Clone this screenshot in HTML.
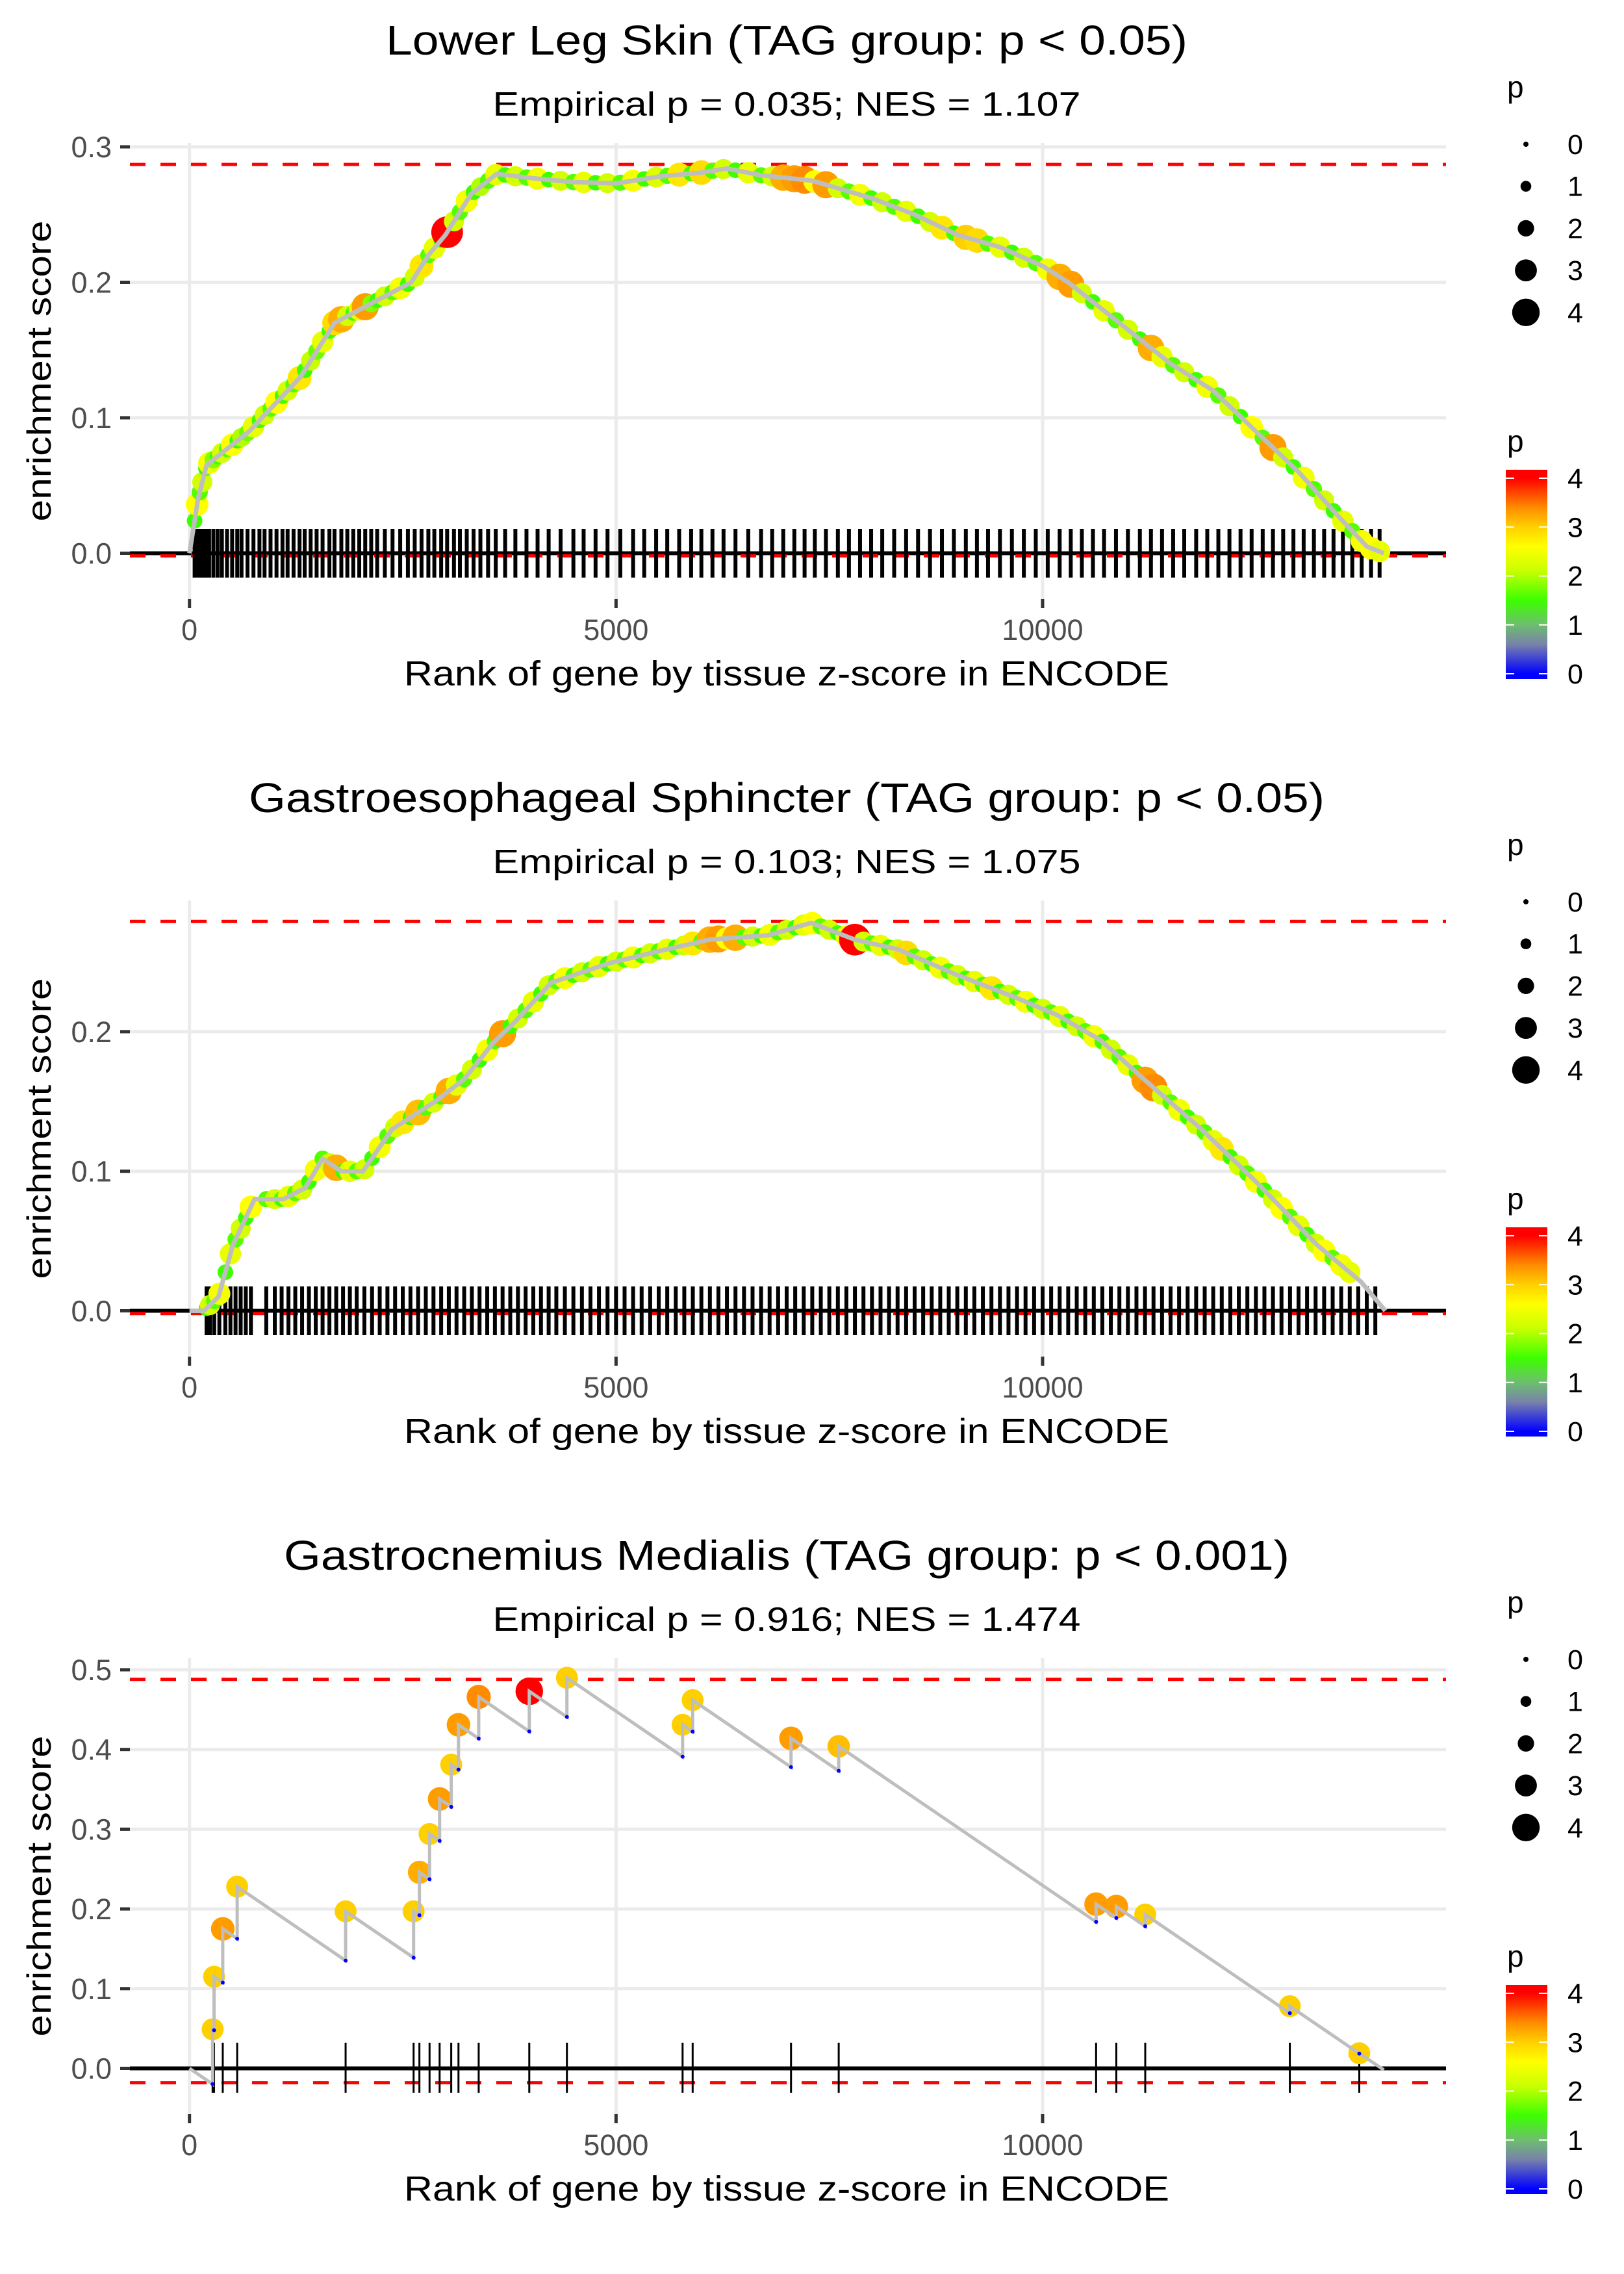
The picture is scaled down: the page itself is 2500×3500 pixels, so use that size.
<!DOCTYPE html>
<html><head><meta charset="utf-8"><style>
html,body{margin:0;padding:0;background:#fff}
svg{display:block}
text{font-family:"Liberation Sans",sans-serif}
</style></head><body>
<svg id="fig" xmlns="http://www.w3.org/2000/svg" width="2500" height="3500" viewBox="0 0 2500 3500">
<rect width="2500" height="3500" fill="#fff"/>
</svg>
<script>
// ---------- Data: panel 1 (Lower Leg Skin) ----------
const p1CurveRanks=[0,100,200,400,700,1000,1300,1500,1700,2000,2300,2600,2800,3000,3300,3600,4000,4500,5000,5500,6000,6300,6700,7300,8000,8500,9000,9500,10000,10300,10500,11000,11500,12000,12500,13000,13500,13800,14000];
const p1CurveES=[0,0.04,0.065,0.075,0.09,0.11,0.13,0.15,0.17,0.18,0.19,0.2,0.22,0.235,0.265,0.28,0.277,0.274,0.273,0.278,0.281,0.284,0.279,0.275,0.262,0.25,0.235,0.226,0.212,0.2,0.19,0.165,0.14,0.12,0.09,0.06,0.025,0.005,0];
const p1HitRanks=[60,90,120,150,190,230,280,330,380,440,500,560,610,680,750,820,880,950,1020,1090,1150,1220,1290,1350,1420,1490,1560,1640,1700,1780,1850,1920,1990,2060,2130,2200,2290,2380,2470,2560,2640,2720,2800,2870,2950,3020,3100,3170,3250,3330,3410,3500,3590,3700,3820,3950,4080,4210,4350,4500,4620,4760,4900,5050,5200,5330,5470,5600,5740,5880,6000,6130,6260,6400,6550,6700,6830,6960,7090,7210,7330,7460,7600,7730,7860,7990,8120,8260,8400,8540,8680,8820,8960,9100,9230,9360,9500,9640,9780,9920,10060,10200,10330,10460,10590,10720,10860,11000,11140,11270,11400,11530,11660,11800,11930,12060,12190,12320,12450,12580,12700,12820,12940,13060,13180,13300,13410,13520,13630,13740,13850,13950];
const p1HitP=[1.5,2.6,1.6,2.2,1.4,2.5,1.8,1.5,2.2,1.6,2.6,1.5,2.0,1.7,2.4,1.5,2.2,1.6,2.6,1.5,2.2,1.6,2.8,1.5,2.1,1.7,2.4,1.5,2.9,3.2,2.2,1.5,2.4,3.3,1.8,1.5,2.2,1.6,2.5,1.5,2.2,2.8,1.6,2.4,1.5,4.0,2.2,1.6,2.5,1.5,2.0,1.6,2.4,1.5,2.2,1.6,2.5,1.5,2.2,1.6,2.4,1.5,2.2,1.6,2.5,1.5,2.3,1.6,2.8,1.5,2.9,1.6,2.2,1.5,2.4,1.6,2.2,3.2,3.3,3.4,2.6,3.3,2.2,1.6,2.5,1.5,2.2,1.6,2.4,1.5,2.2,2.8,1.5,3.0,2.9,1.6,2.4,1.5,2.2,1.6,2.5,3.2,3.3,2.2,1.5,2.4,1.6,2.2,1.5,3.2,2.4,1.6,2.2,1.5,2.5,1.6,2.2,1.5,2.6,1.6,3.3,2.2,1.5,2.5,1.6,2.2,1.5,2.4,1.6,2.5,2.6,2.4];
// ---------- Data: panel 2 (Gastroesophageal Sphincter) ----------
const p2CurveRanks=[0,170,340,508,763,1100,1356,1560,1780,2034,2373,2881,3220,3559,3814,4237,4915,5593,6102,6780,7288,7797,8305,8983,9661,10169,10678,11186,11864,12542,13220,13729,14017];
const p2CurveES=[0,0.0,0.01,0.047,0.08,0.08,0.088,0.109,0.1,0.1,0.13,0.15,0.166,0.192,0.207,0.235,0.249,0.259,0.266,0.269,0.278,0.266,0.259,0.241,0.225,0.212,0.194,0.166,0.13,0.09,0.047,0.021,0];
const p2HitRanks=[200,240,290,350,420,480,540,600,660,720,900,1000,1080,1160,1240,1320,1400,1480,1560,1640,1720,1800,1880,1960,2050,2140,2230,2320,2410,2500,2590,2680,2770,2860,2950,3040,3130,3220,3310,3400,3490,3580,3670,3760,3850,3940,4030,4120,4210,4300,4400,4500,4600,4700,4800,4900,5000,5100,5200,5300,5400,5500,5600,5700,5800,5900,6000,6100,6200,6300,6400,6500,6600,6700,6800,6900,7000,7100,7200,7300,7400,7500,7600,7700,7800,7900,8000,8100,8200,8300,8400,8500,8600,8700,8800,8900,9000,9100,9200,9300,9400,9500,9600,9700,9800,9900,10000,10100,10200,10300,10400,10500,10600,10700,10800,10900,11000,11100,11200,11300,11400,11500,11600,11700,11800,11900,12000,12100,12200,12300,12400,12500,12600,12700,12800,12900,13000,13100,13200,13300,13400,13500,13600,13700,13800,13900];
const p2HitP=[1.5,2.2,1.6,2.5,1.5,2.4,1.6,2.2,1.5,2.6,1.6,2.2,1.5,2.4,1.6,2.2,1.5,2.5,1.6,2.2,3.2,1.5,2.4,1.6,2.2,1.5,2.5,1.6,2.2,2.8,1.5,3.1,1.6,2.2,1.5,3.2,2.4,1.6,2.2,1.5,2.5,1.6,3.3,1.5,2.2,1.6,2.4,1.5,2.2,1.6,2.5,1.5,2.2,1.6,2.4,1.5,2.2,1.6,2.5,1.5,2.2,1.6,2.4,1.5,2.2,2.8,1.6,3.2,3.3,2.6,3.2,1.6,2.2,1.5,2.5,1.6,2.2,1.5,2.4,2.6,1.6,2.2,1.5,2.5,4.0,2.2,1.6,2.4,1.5,2.2,2.9,1.6,2.2,1.5,2.5,1.6,2.2,1.5,2.4,1.6,2.8,1.5,2.2,1.6,2.5,1.5,2.2,1.6,2.4,1.5,2.2,1.6,2.5,1.5,2.2,1.6,2.4,1.5,3.3,3.4,2.2,1.6,2.5,1.5,2.2,1.6,2.4,2.8,1.5,2.2,1.6,2.5,1.5,2.2,2.6,1.6,2.4,1.5,2.2,2.6,1.6,2.5,2.4];
// ---------- Data: panel 3 (Gastrocnemius Medialis) ----------
const p3HitRanks=[271,288,390,559,1830,2627,2695,2814,2932,3068,3153,3390,3983,4424,5780,5898,7051,7610,10627,10864,11203,12898,13712];
const p3HitES=[0.049,0.115,0.175,0.228,0.197,0.197,0.246,0.294,0.338,0.381,0.431,0.466,0.473,0.490,0.431,0.462,0.414,0.404,0.206,0.203,0.193,0.078,0.019];
const p3HitP=[3.0,3.0,3.3,3.0,3.0,3.0,3.2,3.0,3.3,3.0,3.3,3.4,4.0,3.0,3.0,3.0,3.3,3.1,3.3,3.3,3.0,3.0,3.0];
const p3Step=7.3e-5, p3N=14000;
// ---------- Titles / ticks ----------
const titles=["Lower Leg Skin (TAG group: p < 0.05)","Gastroesophageal Sphincter (TAG group: p < 0.05)","Gastrocnemius Medialis (TAG group: p < 0.001)"];
const titleWidths=[1234,1656,1548];
const subtitles=["Empirical p = 0.035; NES = 1.107","Empirical p = 0.103; NES = 1.075","Empirical p = 0.916; NES = 1.474"];
const xTicks=[0,5000,10000];
const yTicks1=[0,0.1,0.2,0.3], yTicks2=[0,0.1,0.2], yTicks3=[0,0.1,0.2,0.3,0.4,0.5];
const legendSizes=[0,1,2,3,4];

const NS="http://www.w3.org/2000/svg";
const svg=document.getElementById('fig');
function mk(tag,attrs,parent){const e=document.createElementNS(NS,tag);for(const k in attrs)e.setAttribute(k,attrs[k]);(parent||svg).appendChild(e);return e;}
const xs=r=>291.7+r*0.13133;
const rad=p=>4+p*4.3;
const stops=[[0,[0,0,255]],[0.6,[120,130,170]],[1,[110,190,110]],[1.5,[60,255,0]],[2.1,[200,255,0]],[2.6,[255,255,0]],[3.0,[255,208,0]],[3.4,[255,140,0]],[4,[255,0,0]]];
function col(p){for(let i=1;i<stops.length;i++){if(p<=stops[i][0]){const a=stops[i-1],b=stops[i],t=(p-a[0])/(b[0]-a[0]);const c=a[1].map((v,j)=>Math.round(v+(b[1][j]-v)*t));return `rgb(${c.join(',')})`;}}return 'rgb(255,0,0)';}
function interp(rs,es,r){for(let i=1;i<rs.length;i++){if(r<=rs[i]){const t=(r-rs[i-1])/(rs[i]-rs[i-1]);return es[i-1]+(es[i]-es[i-1])*t;}}return es[es.length-1];}

function panel(k,yPer,yTicks){
  const g=mk('g',{transform:`translate(0,${k*1166})`});
  
  
  const ys=v=>851.5-v*yPer*100;
  yTicks.forEach(v=>{const l=mk('line',{x1:200,x2:2226,y1:ys(v),y2:ys(v),stroke:'#ebebeb','stroke-width':5},g);
    });
  xTicks.forEach(v=>{const l=mk('line',{x1:xs(v),x2:xs(v),y1:220,y2:922,stroke:'#ebebeb','stroke-width':5},g);
    });
  yTicks.forEach(v=>{mk('line',{x1:185,x2:200,y1:ys(v),y2:ys(v),stroke:'#333','stroke-width':5},g);
    const t=mk('text',{x:172,y:ys(v)+16,'font-size':45,fill:'#4d4d4d','text-anchor':'end'},g);t.textContent=v.toFixed(1);
    });
  xTicks.forEach(v=>{mk('line',{x1:xs(v),x2:xs(v),y1:922,y2:936,stroke:'#333','stroke-width':5},g);
    const t=mk('text',{x:xs(v),y:985,'font-size':45,fill:'#4d4d4d','text-anchor':'middle'},g);t.textContent=v;
    });
  return {g,ys};
}
function texts(k){
  const g=mk('g',{transform:`translate(0,${k*1166})`});
  const t=mk('text',{x:1211,y:84,'font-size':64,'text-anchor':'middle',textLength:titleWidths[k],lengthAdjust:'spacingAndGlyphs'},g);t.textContent=titles[k];
  
  const s=mk('text',{x:1211,y:178,'font-size':52,'text-anchor':'middle',textLength:905,lengthAdjust:'spacingAndGlyphs'},g);s.textContent=subtitles[k];
  
  const yt=mk('text',{x:0,y:0,'font-size':52,'text-anchor':'middle',transform:'translate(78,571) rotate(-90)',textLength:463,lengthAdjust:'spacingAndGlyphs'},g);yt.textContent='enrichment score';
  
  const xt=mk('text',{x:1211,y:1055,'font-size':54,'text-anchor':'middle',textLength:1178,lengthAdjust:'spacingAndGlyphs'},g);xt.textContent='Rank of gene by tissue z-score in ENCODE';
  
  const lg=mk('g',{},g);
  const pt=mk('text',{x:2320,y:150,'font-size':46},lg);pt.textContent='p';
  legendSizes.forEach((v,i)=>{const y=222+i*64.7;mk('circle',{cx:2349,cy:y,r:rad(v),fill:'#000'},lg);
    const tt=mk('text',{x:2413,y:y+15,'font-size':43},lg);tt.textContent=v;
    });
  const cg=mk('g',{},g);
  const pc=mk('text',{x:2320,y:695,'font-size':46},cg);pc.textContent='p';
  const gid='cb'+k;const grad=mk('linearGradient',{id:gid,x1:0,y1:1,x2:0,y2:0},mk('defs',{},cg));
  stops.forEach(s=>{const y=1037-s[0]*75.25;mk('stop',{offset:((1045-y)/322).toFixed(4),'stop-color':col(s[0])},grad);});
  mk('rect',{x:2318,y:723,width:64,height:322,fill:`url(#${gid})`},cg);
  legendSizes.forEach(v=>{const y=1037-v*75.25;mk('line',{x1:2318,x2:2331,y1:y,y2:y,stroke:'#fff','stroke-width':2},cg);mk('line',{x1:2369,x2:2382,y1:y,y2:y,stroke:'#fff','stroke-width':2},cg);
    const tt=mk('text',{x:2413,y:y+15,'font-size':43},cg);tt.textContent=v;});
}
function refLines(g,ys,maxES,minES){
  mk('line',{x1:200,x2:2226,y1:ys(0),y2:ys(0),stroke:'#000','stroke-width':6},g);
  [maxES,minES].forEach(v=>{const l=mk('line',{x1:200,x2:2226,y1:ys(v),y2:ys(v),stroke:'#ff0000','stroke-width':5,'stroke-dasharray':'24 23'},g);
    });
}
function densePanel(k,yPer,yTicks,cr,ce,hr,hp,maxES,minES){
  const {g,ys}=panel(k,yPer,yTicks);
  refLines(g,ys,maxES,minES);
  hr.forEach(r=>{const l=mk('line',{x1:xs(r),x2:xs(r),y1:814,y2:889,stroke:'#000','stroke-width':6},g);
    });
  hr.forEach((r,i)=>{const c=mk('circle',{cx:xs(r),cy:ys(interp(cr,ce,r)),r:rad(hp[i])*1.15,fill:col(hp[i])},g);
    });
  const pl=mk('polyline',{points:cr.map((r,i)=>xs(r)+','+ys(ce[i])).join(' '),fill:'none',stroke:'#bebebe','stroke-width':7,'stroke-linejoin':'round'},g);
  
}
densePanel(0,20.85,yTicks1,p1CurveRanks,p1CurveES,p1HitRanks,p1HitP,0.287,-0.002);
densePanel(1,21.48,yTicks2,p2CurveRanks,p2CurveES,p2HitRanks,p2HitP,0.279,-0.002);
(function(){
  const {g,ys}=panel(2,12.27,yTicks3);
  refLines(g,ys,0.488,-0.018);
  p3HitRanks.forEach(r=>{const l=mk('line',{x1:xs(r),x2:xs(r),y1:812,y2:889,stroke:'#000','stroke-width':3},g);
    });
  let pts=[[0,0]],prevR=0,prevE=0;const pre=[];
  p3HitRanks.forEach((r,i)=>{const low=prevE-p3Step*(r-prevR);pre.push([r,low]);pts.push([r,low]);pts.push([r,p3HitES[i]]);prevR=r;prevE=p3HitES[i];});
  pts.push([p3N,prevE-p3Step*(p3N-prevR)]);
  p3HitRanks.forEach((r,i)=>{const c=mk('circle',{cx:xs(r),cy:ys(p3HitES[i]),r:rad(p3HitP[i]),fill:col(p3HitP[i])},g);
    });
  const pl=mk('polyline',{points:pts.map(p=>xs(p[0])+','+ys(p[1])).join(' '),fill:'none',stroke:'#bebebe','stroke-width':5},g);
  
  pre.forEach(p=>{const c=mk('circle',{cx:xs(p[0]),cy:ys(p[1]),r:3,fill:'#0000ff'},g);
    });
})();
[0,1,2].forEach(texts);
</script>
</body></html>
